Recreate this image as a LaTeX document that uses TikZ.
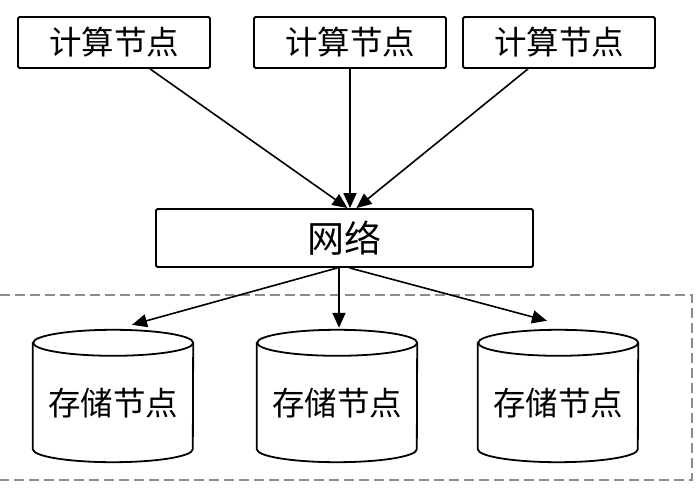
\documentclass[tikz,border=0pt]{standalone}
\usepackage{fontspec}
\setmainfont{Noto Sans CJK SC}
\usetikzlibrary{arrows.meta,calc}
\tikzset{
  boxnode/.style={draw, line width=1.8pt, rounded corners=1.5pt, minimum width=192pt, minimum height=51pt, inner sep=0pt, font=\fontsize{32.5}{34}\selectfont},
  netnode/.style={draw, line width=1.8pt, rounded corners=1.5pt, minimum width=377pt, minimum height=58pt, inner sep=0pt, font=\fontsize{37}{39}\selectfont},
  cylbox/.style={minimum width=160pt, minimum height=132pt, inner sep=0pt},
  cyltext/.style={font=\fontsize{32.5}{34}\selectfont, inner sep=0pt},
  conn/.style={line width=1.6pt, -{Triangle[length=15pt,width=13pt]}},
  cylline/.style={line width=1.8pt},
  dashbox/.style={line width=1.8pt, draw=black!45, dash pattern=on 10pt off 5pt}
}
\begin{document}
\begin{tikzpicture}[x=1pt,y=1pt]
\useasboundingbox[fill=white] (0,0) rectangle (700,492);
% compute nodes
\node[boxnode] (c1) at (114,449.5) {计算节点};
\node[boxnode] (c2) at (350,449.5) {计算节点};
\node[boxnode] (c3) at (559,449.5) {计算节点};
% network
\node[netnode] (net) at (344.5,254) {网络};
% dashed region
\draw[dashbox] (0,197) -- (692,197) -- (692,12) -- (0,12);
% storage cylinders
\foreach \n/\cx in {s1/113, s2/337, s3/558}{
  \node[cylbox] (\n) at (\cx,96) {};
  \draw[cylline, fill=white] ([yshift=-13pt]\n.north west) -- ([yshift=13pt]\n.south west)
    arc[start angle=180, end angle=360, x radius=80pt, y radius=13pt]
    -- ([yshift=-13pt]\n.north east)
    arc[start angle=0, end angle=180, x radius=80pt, y radius=13pt] -- cycle;
  \draw[cylline] ([yshift=-13pt]\n.north east)
    arc[start angle=0, end angle=-180, x radius=80pt, y radius=13pt];
  \node[cyltext] (\n t) at ([yshift=-7pt]\n.center) {存储节点};
}
% connectors top
\draw[conn] ([xshift=36pt]c1.south) -- ([xshift=3pt]net.north);
\draw[conn] (c2.south) -- (c2.south |- net.north);
\draw[conn] ([xshift=-31pt]c3.south) -- ([xshift=12pt]net.north);
% connectors bottom
\draw[conn] ([xshift=-7pt]net.south) -- ([xshift=19pt,yshift=5pt]s1.north);
\draw[conn] ([xshift=-5.5pt]net.south) -- ([xshift=2pt,yshift=2pt]s2.north);
\draw[conn] ([xshift=5pt]net.south) -- ([xshift=-11pt,yshift=9pt]s3.north);
\end{tikzpicture}
\end{document}
